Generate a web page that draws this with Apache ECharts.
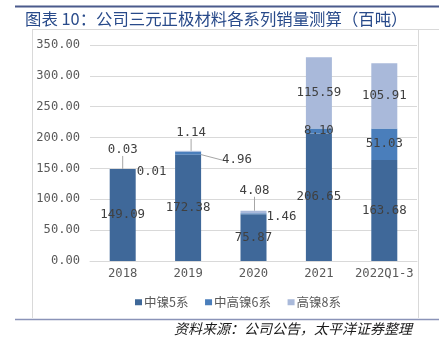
<!DOCTYPE html>
<html>
<head>
<meta charset="utf-8">
<script src="https://cdn.jsdelivr.net/npm/echarts@6/dist/echarts.min.js"></script>
<style>
html,body{margin:0;padding:0;background:#fff;}
#chart{width:439px;height:344px;}
</style>
</head>
<body>
<div id="chart"></div>
<script>
// ---- data ----
const categories = ['2018', '2019', '2020', '2021', '2022Q1-3'];
const seriesNames = ['中镍5系', '中高镍6系', '高镍8系'];
const ni5 = [149.09, 172.38, 75.87, 206.65, 163.68];
const ni6 = [0.01, 4.96, 1.46, 8.10, 51.03];
const ni8 = [0.03, 1.14, 4.08, 115.59, 105.91];
const yTicks = [0, 50, 100, 150, 200, 250, 300, 350];
const titleText = '图表 10：公司三元正极材料各系列销量测算（百吨）';
const sourceText = '资料来源：公司公告，太平洋证券整理';

// ---- styles ----
const colors = ['#3f6899', '#4a7ebb', '#a9b9da'];
const monoFont = 'DejaVu Sans Mono';
const cjkFont = 'Noto Sans CJK SC';
const labelColor = '#404040';
const axisColor = '#595959';
const gridColor = '#d9d9d9';
const leaderStyle = { show: true, lineStyle: { color: '#a6a6a6', width: 1 } };

// label placement for the thin segments (styling, not data)
const sixOutside = { 0: { dx: 0, dy: 3, line: false, dist: 1 }, 1: { dx: 19, dy: 7, line: true, dist: 2 }, 2: { dx: 0, dy: 3.5, line: false, dist: 0 } };
const eightOutside = { 0: { dx: 0, dy: -8, line: true }, 1: { dx: 3, dy: -7, line: true }, 2: { dx: 1, dy: -9, line: true } };

const fmt = p => Number(p.value).toFixed(2);
const baseLabel = { show: true, color: labelColor, fontFamily: monoFont, fontSize: 12.4, formatter: fmt };

function buildData(values, outside, pos) {
  return values.map((v, i) => {
    const o = outside[i];
    if (!o) return { value: v, label: { position: 'inside' } };
    const item = { value: v, label: { position: pos, distance: o.dist != null ? o.dist : 5 } };
    if (o.line) item.labelLine = leaderStyle;
    return item;
  });
}
function layoutFor(outside) {
  return p => {
    const o = outside[p.dataIndex];
    return o ? { dx: o.dx, dy: o.dy } : {};
  };
}

const chart = echarts.init(document.getElementById('chart'), null, { renderer: 'canvas' });
chart.setOption({
  animation: false,
  backgroundColor: '#ffffff',
  title: {
    text: titleText, left: 25, top: 11, padding: 0,
    textStyle: { fontSize: 16.4, fontWeight: 'normal', color: '#284a8a', fontFamily: cjkFont }
  },
  grid: { left: 90, right: 22, top: 45, bottom: 83, containLabel: false },
  legend: {
    data: seriesNames, left: 130, top: 291, icon: 'rect', itemWidth: 7, itemHeight: 6, itemGap: 16.6,
    textStyle: { color: axisColor, fontSize: 12.5, fontFamily: cjkFont, padding: [0, 0, 0, -3] }
  },
  xAxis: {
    type: 'category', data: categories,
    axisLine: { lineStyle: { color: gridColor, width: 1 } },
    axisTick: { show: false },
    axisLabel: { color: axisColor, fontFamily: monoFont, fontSize: 12.2, margin: 7, interval: 0 }
  },
  yAxis: {
    type: 'value', min: yTicks[0], max: yTicks[yTicks.length - 1], interval: yTicks[1] - yTicks[0],
    axisLine: { show: false }, axisTick: { show: false },
    splitLine: { lineStyle: { color: gridColor, width: 1 } },
    axisLabel: { color: axisColor, fontFamily: monoFont, fontSize: 12.1, margin: 10, formatter: v => v.toFixed(2) }
  },
  series: [
    {
      name: seriesNames[0], type: 'bar', stack: 'total', barWidth: 26,
      itemStyle: { color: colors[0] },
      label: Object.assign({}, baseLabel, { position: 'inside' }),
      data: ni5
    },
    {
      name: seriesNames[1], type: 'bar', stack: 'total', barWidth: 26,
      itemStyle: { color: colors[1] },
      label: Object.assign({}, baseLabel),
      labelLayout: layoutFor(sixOutside),
      data: buildData(ni6, sixOutside, 'right')
    },
    {
      name: seriesNames[2], type: 'bar', stack: 'total', barWidth: 26,
      itemStyle: { color: colors[2] },
      label: Object.assign({}, baseLabel),
      labelLayout: layoutFor(eightOutside),
      data: buildData(ni8, eightOutside, 'top')
    }
  ],
  graphic: [
    { type: 'line', silent: true, shape: { x1: 15, y1: 6.5, x2: 439, y2: 6.5 }, style: { stroke: '#4b5a8c', lineWidth: 2 } },
    { type: 'line', silent: true, shape: { x1: 32, y1: 29.5, x2: 439, y2: 29.5 }, style: { stroke: gridColor, lineWidth: 1 } },
    { type: 'line', silent: true, shape: { x1: 32.5, y1: 29.5, x2: 32.5, y2: 318 }, style: { stroke: gridColor, lineWidth: 1 } },
    { type: 'line', silent: true, shape: { x1: 418.5, y1: 29.5, x2: 418.5, y2: 318 }, style: { stroke: gridColor, lineWidth: 1 } },
    { type: 'line', silent: true, shape: { x1: 15, y1: 319.5, x2: 439, y2: 319.5 }, style: { stroke: '#8a93b8', lineWidth: 1.5 } },
    {
      type: 'text', silent: true, right: 27, top: 322,
      style: { text: sourceText, fill: '#1a1a1a', font: 'italic 14px "Noto Sans CJK SC"' }
    }
  ]
});
</script>
</body>
</html>
